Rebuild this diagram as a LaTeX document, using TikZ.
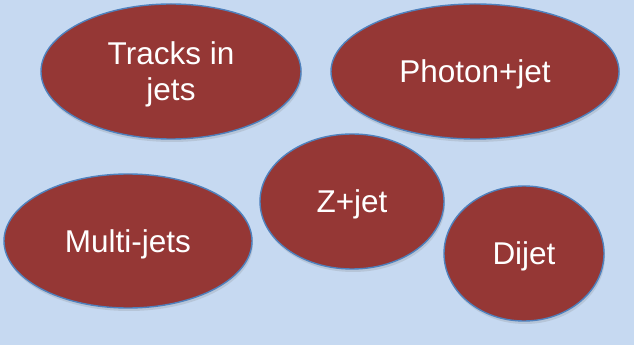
\documentclass[tikz,border=0pt]{standalone}
\usepackage{fontspec}
\setmainfont{Liberation Sans}
\usetikzlibrary{shapes.geometric, shadows}
\definecolor{bgblue}{RGB}{198,217,241}
\definecolor{darkred}{RGB}{149,55,53}
\definecolor{rimblue}{RGB}{79,129,189}

\begin{document}
\begin{tikzpicture}[x=1pt, y=1pt,
  sample/.style={ellipse, fill=darkred, draw=rimblue, line width=1.4pt,
    inner sep=0pt, text=white, align=center, text depth=0pt,
    font=\fontsize{31.5}{36}\selectfont,
    drop shadow={opacity=0.22, shadow xshift=1pt, shadow yshift=-3pt}}]
  % background
  \fill[bgblue] (0,0) rectangle (634,345);
  \useasboundingbox (0,0) rectangle (634,345);
  % top row
  \node[sample, minimum width=260pt, minimum height=135pt] (tracks) at (171,273.5) {Tracks in\\jets};
  \node[sample, minimum width=288pt, minimum height=135pt] (photon) at (475,273.5) {Photon+jet};
  % middle and bottom
  \node[sample, minimum width=184pt, minimum height=135pt] (zjet) at (352,143.5) {Z+jet};
  \node[sample, minimum width=248pt, minimum height=134pt] (multi) at (128,104) {Multi-jets};
  \node[sample, minimum width=160pt, minimum height=135pt] (dijet) at (524,91.5) {Dijet};
\end{tikzpicture}
\end{document}
